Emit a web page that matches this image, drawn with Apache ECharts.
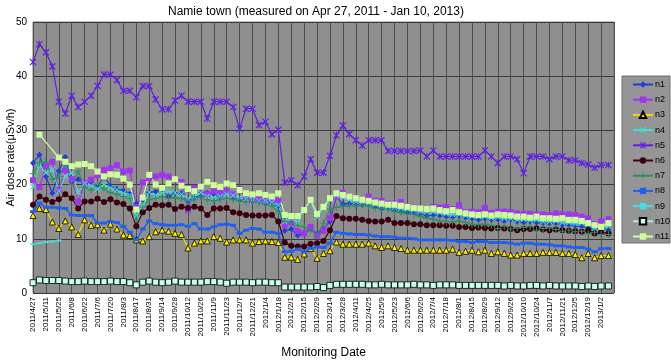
<!DOCTYPE html>
<html>
<head>
<meta charset="utf-8">
<script src="https://cdn.jsdelivr.net/npm/echarts@6/dist/echarts.min.js"></script>
<style>
  html, body { margin: 0; padding: 0; background: #ffffff; }
  #chart { width: 671px; height: 361px; }
</style>
</head>
<body>
<div id="chart"></div>
<script>
// weekly monitoring dates
const dates = [
  "2011/4/27", "2011/5/4", "2011/5/11", "2011/5/18", "2011/5/25", "2011/6/1", "2011/6/8", "2011/6/15", "2011/6/22", "2011/6/29",
  "2011/7/6", "2011/7/13", "2011/7/20", "2011/7/27", "2011/8/3", "2011/8/10", "2011/8/17", "2011/8/24", "2011/8/31", "2011/9/7",
  "2011/9/14", "2011/9/21", "2011/9/28", "2011/10/5", "2011/10/12", "2011/10/19", "2011/10/26", "2011/11/2", "2011/11/9", "2011/11/16",
  "2011/11/23", "2011/11/30", "2011/12/7", "2011/12/14", "2011/12/21", "2011/12/28", "2012/1/4", "2012/1/11", "2012/1/18", "2012/1/25",
  "2012/2/1", "2012/2/8", "2012/2/15", "2012/2/22", "2012/2/29", "2012/3/7", "2012/3/14", "2012/3/21", "2012/3/28", "2012/4/4",
  "2012/4/11", "2012/4/18", "2012/4/25", "2012/5/2", "2012/5/9", "2012/5/16", "2012/5/23", "2012/5/30", "2012/6/6", "2012/6/13",
  "2012/6/20", "2012/6/27", "2012/7/4", "2012/7/11", "2012/7/18", "2012/7/25", "2012/8/1", "2012/8/8", "2012/8/15", "2012/8/22",
  "2012/8/29", "2012/9/5", "2012/9/12", "2012/9/19", "2012/9/26", "2012/10/3", "2012/10/10", "2012/10/17", "2012/10/24", "2012/10/31",
  "2012/11/7", "2012/11/14", "2012/11/21", "2012/11/28", "2012/12/5", "2012/12/12", "2012/12/19", "2012/12/26", "2013/1/2", "2013/1/10"
];

const n1 = [
  24.0, 25.5, 21.5, 18.4, 22.5, 25.1, 20.5, 21.0, 20.0, 20.4,
  19.6, 21.5, 19.8, 19.2, 18.9, 18.3, 16.5, 17.2, 18.6, 18.7,
  19.2, 17.8, 18.4, 18.4, 17.0, 17.6, 18.0, 18.5, 18.2, 17.5,
  18.6, 17.6, 17.2, 17.4, 16.9, 17.0, 16.5, 16.6, 16.0, 11.5,
  11.8, 10.6, 11.0, 11.8, 11.0, 11.8, 13.2, 17.8, 16.4, 16.5,
  16.5, 16.3, 16.4, 16.0, 15.6, 15.7, 15.4, 15.2, 14.9, 14.9,
  14.6, 14.3, 14.4, 14.3, 14.1, 14.0, 14.2, 13.9, 13.8, 13.5,
  13.8, 13.5, 13.6, 13.3, 13.5, 13.2, 13.0, 13.2, 13.0, 12.9,
  12.8, 12.9, 12.6, 12.6, 12.4, 12.3, 12.1, 11.7, 11.9, 11.7
];
const n2 = [
  20.8, 19.5, 23.5, 24.2, 19.0, 22.5, 21.0, 16.8, 20.3, 20.9,
  21.8, 22.7, 23.0, 23.6, 22.4, 22.6, 15.8, 20.4, 21.2, 21.5,
  21.8, 21.5, 21.0, 20.5, 15.3, 19.4, 19.0, 18.2, 18.8, 18.4,
  18.8, 18.2, 19.2, 17.5, 17.2, 17.3, 17.0, 17.2, 17.0, 12.5,
  13.0, 11.4, 11.0, 12.2, 10.6, 11.5, 13.8, 17.8, 18.5, 17.8,
  17.5, 17.0, 17.8, 17.0, 17.0, 16.5, 16.5, 16.8, 16.0, 15.8,
  15.6, 15.4, 15.9, 15.8, 15.8, 15.5, 16.2, 14.9, 15.0, 14.9,
  15.7, 14.8, 15.0, 15.0, 14.9, 14.7, 14.6, 14.6, 14.5, 14.5,
  14.4, 14.7, 14.5, 14.5, 14.4, 14.1, 13.8, 12.7, 13.2, 13.6
];
const n3 = [
  14.3, 15.6, 15.4, 13.1, 11.9, 13.3, 12.2, 10.8, 13.5, 12.5,
  12.6, 11.6, 12.7, 11.8, 10.7, 10.6, 9.8, 9.6, 10.4, 11.3,
  11.6, 11.4, 11.0, 10.8, 8.3, 9.2, 9.6, 9.6, 10.4, 10.1,
  9.4, 9.8, 9.8, 9.8, 9.2, 9.5, 9.6, 9.5, 9.3, 6.6,
  6.6, 6.2, 7.2, 8.2, 6.4, 7.3, 7.8, 9.4, 9.0, 9.0,
  9.0, 9.0, 9.2, 8.7, 8.4, 8.7, 8.4, 8.2, 7.9, 7.9,
  7.9, 7.9, 7.9, 7.9, 7.9, 8.1, 7.5, 7.7, 7.9, 7.6,
  7.9, 7.3, 7.6, 7.3, 7.0, 7.0, 7.3, 7.3, 7.3, 7.5,
  7.5, 7.5, 7.3, 7.3, 7.1, 6.5, 7.3, 6.5, 6.9, 6.9
];
const n4 = [
  19.6, 23.6, 22.2, 22.8, 18.8, 21.6, 22.2, 18.6, 20.2, 19.8,
  19.2, 20.0, 19.4, 19.0, 18.4, 18.0, 14.3, 16.0, 18.6, 18.0,
  18.4, 18.8, 18.5, 18.2, 17.4, 17.8, 18.5, 17.8, 17.6, 17.8,
  18.2, 18.0, 17.6, 17.4, 17.2, 17.0, 17.0, 16.7, 16.2, 13.2,
  13.8, 13.0, 15.5, 17.0, 14.0, 15.6, 17.2, 18.0, 17.6, 17.2,
  16.9, 16.8, 16.6, 16.4, 16.2, 16.0, 15.8, 15.6, 15.5, 15.3,
  15.1, 15.0, 15.0, 14.8, 14.6, 14.5, 14.5, 14.3, 14.2, 14.1,
  14.1, 13.9, 14.0, 13.8, 13.7, 13.5, 13.6, 13.4, 13.5, 13.2,
  13.2, 13.3, 13.0, 13.0, 12.8, 12.9, 12.7, 12.0, 12.4, 12.3
];
const n5 = [
  42.6, 45.9, 44.4, 41.8, 35.3, 33.1, 36.4, 34.3, 35.3, 36.4,
  38.2, 40.3, 40.3, 39.3, 37.3, 37.3, 36.1, 38.2, 38.2, 35.7,
  33.9, 33.9, 35.5, 36.4, 35.3, 35.3, 35.3, 32.2, 35.3, 35.3,
  35.3, 34.3, 30.3, 34.0, 34.0, 31.0, 31.6, 29.3, 30.1, 20.4,
  20.8, 19.9, 21.5, 24.7, 22.2, 22.2, 25.3, 29.1, 30.9, 29.3,
  28.2, 27.2, 28.2, 28.2, 28.2, 26.2, 26.2, 26.2, 26.2, 26.2,
  26.3, 25.2, 26.3, 25.2, 25.2, 25.2, 25.2, 25.2, 25.2, 25.2,
  26.3, 25.2, 24.0, 25.2, 25.2, 24.7, 22.1, 25.2, 25.2, 25.2,
  24.7, 25.2, 25.2, 24.5, 24.5, 24.0, 23.7, 23.1, 23.6, 23.6
];
const n6 = [
  16.3, 17.8, 17.2, 16.8, 17.3, 18.2, 17.5, 15.6, 16.9, 16.9,
  17.4, 16.8, 17.3, 16.7, 16.4, 15.6, 12.3, 14.9, 15.7, 16.3,
  16.2, 16.3, 15.5, 15.9, 15.7, 15.9, 15.6, 14.4, 15.6, 15.6,
  15.7, 14.9, 14.7, 14.4, 14.3, 14.3, 14.3, 14.4, 13.2, 9.3,
  8.7, 8.6, 8.6, 9.1, 9.2, 9.6, 11.6, 14.2, 13.8, 13.7,
  13.7, 13.5, 13.3, 13.2, 13.2, 13.5, 12.9, 12.9, 12.9, 12.7,
  12.7, 12.5, 12.5, 12.5, 12.4, 12.4, 12.2, 12.2, 12.0, 12.1,
  12.0, 11.9, 12.0, 11.9, 11.8, 11.6, 11.8, 11.8, 11.9, 11.7,
  11.6, 11.7, 11.6, 11.5, 11.4, 11.3, 11.6, 11.0, 11.2, 11.0
];
const n7 = [
  22.0, 24.0, 24.2, 21.0, 21.5, 23.6, 20.0, 22.5, 19.5, 19.0,
  20.0, 19.2, 18.5, 18.2, 17.8, 17.5, 13.6, 15.8, 17.2, 17.5,
  17.8, 17.5, 17.6, 17.4, 17.0, 17.2, 17.8, 17.2, 17.0, 17.3,
  17.5, 17.2, 17.0, 16.8, 16.9, 16.6, 16.4, 16.1, 15.0, 13.3,
  12.8, 12.5, 12.2, 11.6, 10.8, 12.8, 15.5, 15.8, 16.0, 16.1,
  16.0, 16.2, 16.0, 15.6, 15.6, 15.4, 15.0, 14.8, 14.6, 14.5,
  14.1, 13.8, 13.6, 13.3, 13.2, 13.1, 13.3, 13.0, 12.7, 12.6,
  12.7, 12.5, 11.9, 12.3, 11.8, 12.0, 12.1, 12.2, 11.6, 11.9,
  12.0, 11.7, 11.4, 11.6, 11.3, 11.4, 10.9, 11.2, 10.8, 10.8
];
const n8 = [
  15.0, 16.6, 15.8, 15.8, 15.7, 15.6, 14.4, 14.3, 14.3, 14.3,
  12.9, 12.9, 13.2, 13.0, 12.3, 11.2, 9.8, 11.8, 13.3, 12.8,
  12.6, 12.5, 12.5, 12.6, 12.3, 12.8, 11.8, 11.8, 12.2, 12.6,
  12.7, 12.5, 11.0, 11.6, 11.9, 11.8, 11.2, 11.2, 11.0, 7.6,
  7.7, 8.1, 7.6, 8.2, 8.5, 8.4, 9.2, 11.2, 11.0, 10.9,
  10.8, 10.8, 10.7, 10.5, 10.4, 10.4, 10.3, 10.1, 10.1, 10.0,
  9.8, 9.8, 9.8, 9.8, 9.8, 9.7, 9.5, 9.5, 9.3, 9.5,
  9.5, 9.3, 9.3, 9.3, 9.2, 9.0, 9.2, 9.2, 9.0, 9.0,
  8.9, 8.7, 8.7, 8.5, 8.4, 8.4, 8.1, 7.6, 8.2, 8.2
];
// n9 was only measured in the first weeks
const n9 = [9.0, 9.2, 9.4, 9.5, 9.7];
const n10 = [
  1.9, 2.4, 2.3, 2.3, 2.3, 2.2, 2.1, 2.1, 2.2, 2.1,
  2.1, 2.1, 2.2, 2.1, 2.1, 1.9, 1.5, 2.0, 2.2, 2.0,
  1.9, 2.0, 2.2, 2.0, 2.0, 2.0, 2.0, 2.1, 2.1, 2.0,
  1.8, 2.0, 2.0, 2.0, 1.9, 2.0, 2.0, 1.9, 1.9, 1.1,
  1.1, 1.1, 1.1, 1.1, 1.2, 1.0, 1.4, 1.6, 1.6, 1.6,
  1.6, 1.6, 1.5, 1.5, 1.6, 1.5, 1.5, 1.5, 1.5, 1.6,
  1.5, 1.5, 1.4, 1.5, 1.5, 1.5, 1.4, 1.4, 1.4, 1.4,
  1.4, 1.4, 1.4, 1.3, 1.4, 1.3, 1.3, 1.4, 1.4, 1.3,
  1.4, 1.3, 1.3, 1.3, 1.3, 1.2, 1.3, 1.2, 1.3, 1.3
];
const n11 = [
  null, 29.2, null, null, 25.0, 24.2, 23.4, 23.7, 23.8, 23.4,
  22.4, 21.5, 21.9, 21.8, 21.1, 20.0, 15.4, 17.6, 21.8, 20.0,
  19.4, 20.2, 21.0, 19.8, 19.2, 18.8, 19.6, 20.5, 19.9, 19.6,
  20.2, 19.9, 19.0, 18.4, 18.2, 18.4, 18.1, 17.8, 18.4, 14.4,
  14.2, 14.2, 15.3, 17.2, 14.6, 15.9, 17.5, 18.4, 18.1, 17.8,
  17.5, 17.2, 17.0, 16.7, 16.5, 16.3, 16.3, 16.1, 15.9, 15.7,
  15.6, 15.5, 15.6, 15.3, 15.1, 15.3, 14.9, 14.7, 14.5, 14.4,
  14.5, 14.3, 14.5, 14.4, 14.3, 14.1, 14.1, 13.9, 14.1, 13.8,
  13.8, 13.7, 13.8, 13.5, 13.5, 13.3, 12.9, 12.5, 12.2, 12.9
];

const startDay = Date.UTC(2011, 3, 27);
const DAY = 86400000;

function dayOf(s) {
  const p = s.split("/").map(Number);
  return (Date.UTC(p[0], p[1] - 1, p[2]) - startDay) / DAY;
}

function dateLabel(v) {
  const t = new Date(startDay + v * DAY);
  return t.getUTCFullYear() + "/" + (t.getUTCMonth() + 1) + "/" + t.getUTCDate();
}

function points(values) {
  return dates.map((d, i) => [dayOf(d), values[i] == null ? null : values[i]]);
}

const xMark = "path://M0,1.2L1.2,0L5,3.8L8.8,0L10,1.2L6.2,5L10,8.8L8.8,10L5,6.2L1.2,10L0,8.8L3.8,5Z";
const starMark = "path://M0,1.2L1.2,0L4.4,3.2L4.4,0L5.6,0L5.6,3.2L8.8,0L10,1.2L6.2,5L10,8.8L8.8,10L5.6,6.8L5.6,10L4.4,10L4.4,6.8L1.2,10L0,8.8L3.8,5Z";
const plusMark = "path://M4.3,0H5.7V4.3H10V5.7H5.7V10H4.3V5.7H0V4.3H4.3Z";

function lineSeries(name, values, color, symbol, size, opts) {
  opts = opts || {};
  return {
    name: name,
    type: "line",
    data: points(values),
    symbol: symbol,
    symbolSize: size,
    showSymbol: true,
    connectNulls: !!opts.connect,
    lineStyle: { color: opts.lineColor || color, width: opts.width || 1.2 },
    itemStyle: {
      color: color,
      borderColor: opts.border || color,
      borderWidth: opts.border ? 0.8 : 0
    }
  };
}

const chart = echarts.init(document.getElementById("chart"), null, { renderer: "canvas" });

chart.setOption({
  animation: false,
  backgroundColor: "#ffffff",
  textStyle: { fontFamily: "Liberation Sans" },
  title: {
    text: "Namie town (measured on Apr 27, 2011 - Jan 10, 2013)",
    left: 163,
    top: 1,
    textStyle: { fontSize: 12, fontWeight: "normal", color: "#000000", fontFamily: "Liberation Sans" }
  },
  graphic: [
    {
      type: "rect",
      z: 0,
      shape: { x: 622, y: 76, width: 48, height: 167 },
      style: { fill: "#959595", stroke: "#6e6e6e", lineWidth: 1 }
    }
  ],
  legend: {
    orient: "vertical",
    left: 627,
    top: 75,
    itemWidth: 20,
    itemHeight: 8,
    itemGap: 6.2,
    z: 5,
    textStyle: { fontSize: 9, color: "#000000", padding: [0, 0, 0, -3] },
    data: ["n1", "n2", "n3", "n4", "n5", "n6", "n7", "n8", "n9", "n10", "n11"]
  },
  grid: {
    left: 33,
    right: 57,
    top: 22,
    bottom: 68,
    containLabel: false,
    outerBoundsMode: "none",
    show: true,
    backgroundColor: "#8f8f8f",
    borderColor: "#7a7a7a",
    borderWidth: 1
  },
  xAxis: {
    type: "value",
    min: 0,
    max: 630,
    interval: 14,
    name: "Monitoring Date",
    nameLocation: "middle",
    nameGap: 54,
    nameMoveOverlap: false,
    nameTextStyle: { fontSize: 12, color: "#000000" },
    axisLine: { show: false },
    axisTick: { show: false },
    splitLine: { show: true, lineStyle: { color: "#4e4e4e", width: 1 } },
    axisLabel: {
      rotate: 90,
      fontSize: 8,
      margin: 4,
      color: "#000000",
      showMaxLabel: false,
      formatter: dateLabel
    }
  },
  yAxis: {
    type: "value",
    min: 0,
    max: 50,
    interval: 10,
    name: "Air dose rate(μSv/h)",
    nameLocation: "middle",
    nameGap: 17,
    nameMoveOverlap: false,
    nameTextStyle: { fontSize: 11, color: "#000000" },
    axisLine: { show: false },
    axisTick: { show: false },
    splitLine: { show: true, lineStyle: { color: "#3a3a3a", width: 1 } },
    axisLabel: { fontSize: 10, margin: 6, color: "#000000" }
  },
  series: [
    lineSeries("n1", n1, "#1f3fd6", "diamond", 6),
    lineSeries("n2", n2, "#a035f0", "rect", 6),
    lineSeries("n3", n3, "#ffee00", "triangle", 6, { border: "#000000", lineColor: "#f2d900" }),
    lineSeries("n4", n4, "#40e0d0", xMark, 6),
    lineSeries("n5", n5, "#6020e0", starMark, 7),
    lineSeries("n6", n6, "#3a0010", "circle", 6),
    lineSeries("n7", n7, "#2e9060", plusMark, 7),
    lineSeries("n8", n8, "#2060f0", "rect", [6, 3], { width: 1.5 }),
    lineSeries("n9", n9, "#40e0e0", "rect", [5, 2]),
    lineSeries("n10", n10, "#c8fff0", "rect", 6, { border: "#000000", lineColor: "#a8f0e0" }),
    lineSeries("n11", n11, "#ccff99", "rect", 6, { connect: true })
  ]
});
</script>
</body>
</html>
